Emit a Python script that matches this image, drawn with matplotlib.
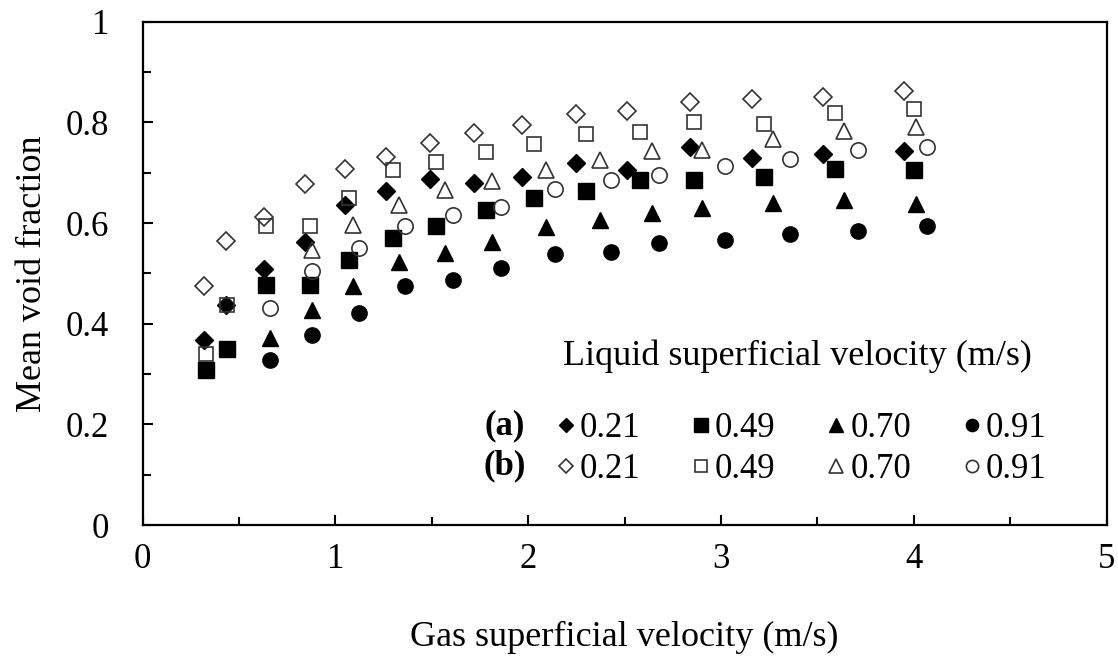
import numpy as np
import matplotlib.pyplot as plt
from matplotlib.ticker import MultipleLocator

plt.rcParams['font.family'] = ['Liberation Serif', 'DejaVu Serif']

# (a) filled markers, (b) open markers; liquid superficial velocity in m/s
x_021 = [0.32, 0.43, 0.63, 0.84, 1.05, 1.26, 1.49, 1.72, 1.97, 2.25, 2.51, 2.84, 3.16, 3.53, 3.95]
a_021 = [0.367, 0.438, 0.509, 0.562, 0.636, 0.664, 0.687, 0.680, 0.692, 0.719, 0.706, 0.752, 0.729, 0.737, 0.743]
b_021 = [0.475, 0.565, 0.612, 0.677, 0.707, 0.731, 0.759, 0.778, 0.794, 0.817, 0.822, 0.840, 0.847, 0.851, 0.863]

x_049 = [0.33, 0.44, 0.64, 0.87, 1.07, 1.30, 1.52, 1.78, 2.03, 2.30, 2.58, 2.86, 3.22, 3.59, 4.00]
a_049 = [0.308, 0.350, 0.477, 0.477, 0.527, 0.570, 0.594, 0.626, 0.649, 0.663, 0.686, 0.686, 0.692, 0.707, 0.705]
b_049 = [0.339, 0.438, 0.595, 0.595, 0.649, 0.705, 0.721, 0.741, 0.758, 0.776, 0.781, 0.800, 0.797, 0.819, 0.827]

x_070a = [0.66, 0.88, 1.09, 1.33, 1.57, 1.81, 2.09, 2.37, 2.64, 2.90, 3.27, 3.64, 4.01]
a_070 = [0.372, 0.428, 0.474, 0.523, 0.540, 0.563, 0.593, 0.606, 0.619, 0.629, 0.640, 0.646, 0.638]
x_070b = [0.88, 1.09, 1.33, 1.57, 1.81, 2.09, 2.37, 2.64, 2.90, 3.27, 3.64, 4.01]
b_070 = [0.547, 0.596, 0.636, 0.665, 0.683, 0.705, 0.725, 0.743, 0.745, 0.766, 0.783, 0.791]

x_091 = [0.66, 0.88, 1.12, 1.36, 1.61, 1.86, 2.14, 2.43, 2.68, 3.02, 3.36, 3.71, 4.07]
a_091 = [0.327, 0.378, 0.422, 0.474, 0.487, 0.510, 0.539, 0.543, 0.560, 0.566, 0.578, 0.585, 0.595]
b_091 = [0.431, 0.504, 0.551, 0.595, 0.616, 0.631, 0.667, 0.685, 0.695, 0.713, 0.727, 0.746, 0.752]

labels = ['0.21', '0.49', '0.70', '0.91']

fig = plt.figure(figsize=(11.18, 6.64), dpi=100)
ax = fig.add_axes([0.1276, 0.2093, 0.8623, 0.758])

edge = '#333333'
handles = []
h = ax.plot(x_021, a_021, 'D', ms=9.5, color='black', mec='black', mew=1, ls='none', label=labels[0])[0]
h2 = ax.plot(x_021, b_021, 'D', ms=9.5, mfc='none', mec=edge, mew=1.2, ls='none', label=labels[0])[0]
handles += [h, h2]
h = ax.plot(x_049, a_049, 's', ms=12, color='black', mec='black', mew=1, ls='none', label=labels[1])[0]
h2 = ax.plot(x_049, b_049, 's', ms=10, mfc='none', mec=edge, mew=1.2, ls='none', label=labels[1])[0]
handles += [h, h2]
h = ax.plot(x_070a, a_070, '^', ms=12, color='black', mec='black', mew=1, ls='none', label=labels[2])[0]
h2 = ax.plot(x_070b, b_070, '^', ms=12, mfc='none', mec=edge, mew=1.2, ls='none', label=labels[2])[0]
handles += [h, h2]
h = ax.plot(x_091, a_091, 'o', ms=11, color='black', mec='black', mew=1, ls='none', label=labels[3])[0]
h2 = ax.plot(x_091, b_091, 'o', ms=11, mfc='none', mec=edge, mew=1.2, ls='none', label=labels[3])[0]
handles += [h, h2]

ax.set_xlim(0, 5)
ax.set_ylim(0, 1)
ax.xaxis.set_major_locator(MultipleLocator(1))
ax.xaxis.set_minor_locator(MultipleLocator(0.5))
ax.yaxis.set_minor_locator(MultipleLocator(0.1))
ax.set_yticks([0, 0.2, 0.4, 0.6, 0.8, 1.0])
ax.set_yticklabels(['0', '0.2', '0.4', '0.6', '0.8', '1'])

ax.tick_params(which='both', direction='in', width=1.5, labelsize=25)
ax.tick_params(which='major', length=7)
ax.tick_params(which='minor', length=6)
ax.tick_params(axis='x', pad=13)
ax.tick_params(axis='y', pad=24)
for s in ax.spines.values():
    s.set_linewidth(1.6)

ax.set_xlabel('Gas superficial velocity (m/s)', fontsize=26, labelpad=32)
ax.set_ylabel('Mean void fraction', fontsize=26, labelpad=12)

leg = ax.legend(handles=handles, ncol=4, loc='upper left', bbox_to_anchor=(0.43, 0.224),
                frameon=False, fontsize=25, handlelength=0.5, handletextpad=0.15,
                columnspacing=1.5, labelspacing=0.22, borderpad=0, borderaxespad=0,
                markerscale=0.8)

ax.text(0.376, 0.197, '(a)', transform=ax.transAxes, fontsize=25, fontweight='bold',
        ha='center', va='center')
ax.text(0.376, 0.117, '(b)', transform=ax.transAxes, fontsize=25, fontweight='bold',
        ha='center', va='center')
ax.text(0.679, 0.336, 'Liquid superficial velocity (m/s)', transform=ax.transAxes,
        fontsize=26, ha='center', va='center')

fig.savefig('out.png', dpi=100)
